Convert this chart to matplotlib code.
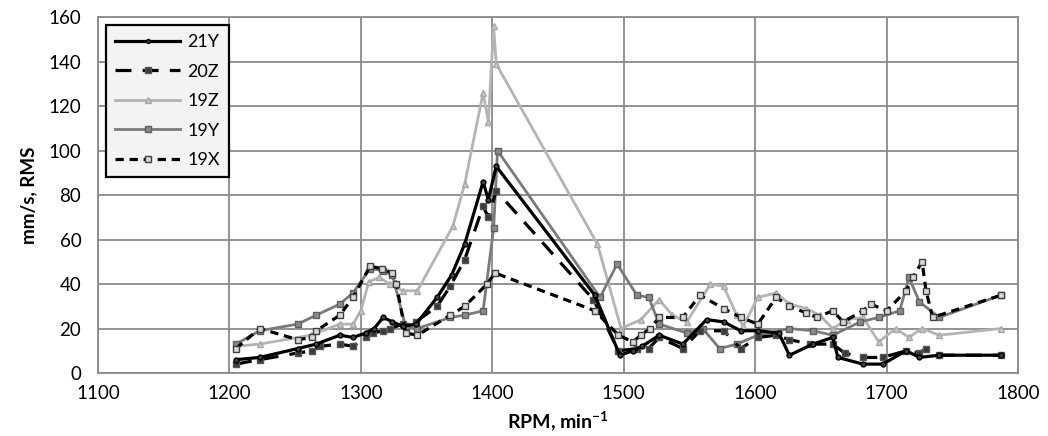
import matplotlib
matplotlib.use("Agg")
import matplotlib.pyplot as plt

plt.rcParams['font.family'] = ['Lato', 'DejaVu Sans']
plt.rcParams['mathtext.fontset'] = 'custom'
plt.rcParams['mathtext.bf'] = 'Lato:bold'
plt.rcParams['mathtext.rm'] = 'Lato'

# ---------------- data ----------------
x_21Y = [1205, 1223, 1252, 1266, 1284, 1294, 1304, 1310, 1317, 1324, 1332, 1342, 1358, 1369, 1379,
         1393, 1397, 1403, 1478, 1497, 1507, 1514, 1527, 1545, 1563, 1576, 1589, 1602, 1618, 1626,
         1644, 1659, 1663, 1682, 1697, 1715, 1725, 1740, 1787]
y_21Y = [6, 7, 11, 13, 17, 16, 18, 20, 25, 23, 21, 22, 34, 44, 58,
         86, 78, 93, 35, 8, 10, 12, 17, 13, 24, 23, 19, 19, 18, 8,
         13, 16, 7, 4, 4, 10, 7, 8, 8]

x_20Z = [1205, 1223, 1252, 1263, 1269, 1284, 1294, 1304, 1309, 1317, 1322, 1332, 1342, 1358, 1368,
         1379, 1393, 1397, 1403, 1477, 1496, 1510, 1519, 1527, 1545, 1558, 1576, 1589, 1602, 1616,
         1626, 1642, 1659, 1668, 1682, 1697, 1715, 1725, 1730, 1740, 1787]
y_20Z = [4, 6, 9, 10, 12, 13, 12, 16, 18, 19, 20, 22, 23, 30, 39,
         51, 75, 70, 82, 33, 10, 11, 11, 16, 11, 19, 19, 11, 16, 17,
         15, 13, 13, 9, 7, 7, 10, 9, 11, 8, 8]

x_19Z = [1205, 1223, 1262, 1284, 1294, 1300, 1306, 1314, 1322, 1332, 1343, 1370, 1379, 1393, 1397,
         1401, 1403, 1480, 1498, 1513, 1527, 1537, 1548, 1566, 1576, 1586, 1591, 1602, 1616, 1626,
         1639, 1649, 1659, 1670, 1682, 1694, 1707, 1717, 1727, 1740, 1787]
y_19Z = [12, 13, 17, 22, 22, 28, 41, 43, 40, 37, 37, 66, 85, 126, 113,
         156, 139, 58, 20, 24, 33, 26, 23, 40, 39, 26, 21, 34, 36, 31,
         29, 26, 20, 24, 25, 14, 20, 16, 20, 17, 20]

x_19Y = [1205, 1223, 1252, 1266, 1284, 1294, 1307, 1317, 1324, 1334, 1343, 1368, 1379, 1393, 1401,
         1404, 1482, 1495, 1510, 1519, 1527, 1548, 1560, 1573, 1586, 1602, 1626, 1644, 1659, 1680,
         1694, 1710, 1717, 1725, 1740, 1787]
y_19Y = [13, 19, 22, 26, 31, 36, 47, 46, 44, 21, 20, 25, 26, 28, 65,
         100, 34, 49, 35, 34, 22, 18, 20, 11, 13, 17, 20, 19, 17, 23,
         25, 28, 43, 32, 25, 35]

x_19X = [1205, 1223, 1252, 1263, 1266, 1284, 1294, 1307, 1316, 1324, 1327, 1334, 1343, 1368, 1379,
         1396, 1402, 1478, 1496, 1507, 1513, 1520, 1527, 1545, 1558, 1576, 1589, 1602, 1616, 1626,
         1639, 1647, 1659, 1667, 1682, 1688, 1700, 1715, 1720, 1727, 1730, 1735, 1787]
y_19X = [11, 20, 15, 16, 19, 26, 34, 48, 47, 45, 40, 18, 17, 26, 30,
         40, 45, 28, 17, 14, 17, 20, 25, 25, 35, 29, 25, 22, 34, 30,
         27, 25, 28, 23, 28, 31, 28, 37, 43, 50, 37, 25, 35]

x_ticks = [1100, 1200, 1300, 1400, 1500, 1600, 1700, 1800]
y_ticks = [0, 20, 40, 60, 80, 100, 120, 140, 160]

# ---------------- figure ----------------
fig = plt.figure(figsize=(10.48, 4.36), dpi=100)
ax = fig.add_axes([0.0935, 0.1445, 0.9714 - 0.0935, 0.9603 - 0.1445])

grid_c = '#8a8a8a'
ax.set_xlim(1100, 1800)
ax.set_ylim(0, 160)
ax.set_xticks(x_ticks)
ax.set_yticks(y_ticks)
ax.grid(True, color=grid_c, linewidth=1.3)
ax.set_axisbelow(True)
for s in ax.spines.values():
    s.set_color(grid_c)
    s.set_linewidth(1.3)
ax.tick_params(length=0, labelsize=13.5, colors='black')
ax.tick_params(axis='x', pad=9)
ax.tick_params(axis='y', pad=12)

ax.plot(x_21Y, y_21Y, color='black', lw=2.3, marker='o', ms=3.5,
        mfc='#404040', mec='black', label='21Y', zorder=5)
ax.plot(x_20Z, y_20Z, color='black', lw=2.3, ls=(0, (5, 3.5)), marker='s', ms=5,
        mfc='#3a3a3a', mec='#555555', label='20Z', zorder=4)
ax.plot(x_19Z, y_19Z, color='#b4b4b4', lw=2.0, marker='^', ms=5,
        mfc='#c8c8c8', mec='#a8a8a8', label='19Z', zorder=3)
ax.plot(x_19Y, y_19Y, color='#7a7a7a', lw=2.0, marker='s', ms=5,
        mfc='#8a8a8a', mec='#606060', label='19Y', zorder=3)
ax.plot(x_19X, y_19X, color='black', lw=2.3, ls=(0, (2.6, 1.8)), marker='s', ms=5,
        mfc='#d8d8d8', mec='#404040', label='19X', zorder=4)

leg = ax.legend(loc='upper left', bbox_to_anchor=(0.0087, 0.978), borderaxespad=0,
                fontsize=13, handlelength=3.6, handletextpad=0.4, labelspacing=0.75,
                borderpad=0.5, fancybox=False, framealpha=1, edgecolor='black',
                facecolor='#f3f3f3', markerscale=0.8)
leg.get_frame().set_linewidth(1.6)

ax.set_xlabel('RPM, min$^{\\mathbf{-1}}$', fontsize=14, fontweight='bold', labelpad=5)
ax.set_ylabel('mm/s, RMS', fontsize=13.5, fontweight='bold', labelpad=8)

fig.savefig('out.png', dpi=100)
